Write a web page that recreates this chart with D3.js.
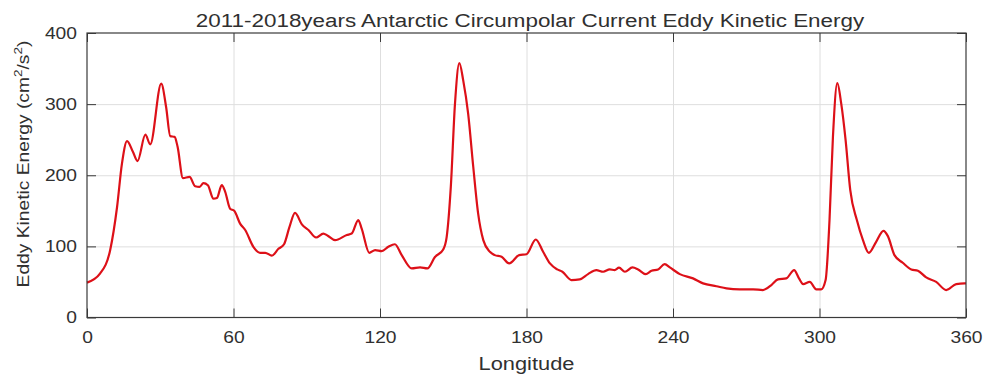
<!DOCTYPE html>
<html>
<head>
<meta charset="utf-8">
<script src="https://cdn.jsdelivr.net/npm/d3@7"></script>
<style>
  html, body { margin: 0; padding: 0; background: #fff; }
  svg { display: block; }
  text { font-family: "Liberation Sans", Arial, Helvetica, sans-serif; fill: #303030; }
</style>
</head>
<body>
<svg id="chart" width="987" height="380"></svg>
<script>
// Zonal-mean eddy kinetic energy along the ACC, 2011-2018
const longitude = [
  0, 5.4, 9.5, 12.3, 14.3, 16.4, 18.8, 20.7, 23.9, 25.9, 30.4, 32.4, 34.1, 35.9, 37.1,
  39.3, 42, 44.3, 46.1, 47.7, 49.5, 51.8, 53.2, 55.2, 56.6, 58.6, 60.3, 62.7, 64.8, 68.2,
  70.9, 73, 75.7, 78.4, 80.7, 82.9, 85.2, 88, 90.7, 93.8, 96.8, 98.6, 101.6, 106.4, 108.4,
  111.1, 112.5, 115.6, 118, 120.7, 123.4, 126.1, 128.9, 133, 136.4, 139.4, 142.5, 145.9, 147.3,
  149, 150.7, 152.5, 154.1, 156.1, 158.2, 160.2, 162.3, 165, 167, 169.8, 172.9, 177, 180,
  183.8, 186.8, 189.6, 192.6, 194.7, 198.4, 201.8, 205.2, 208.6, 211.4, 214.1, 216.1, 217.9,
  220.3, 223.4, 225.7, 228.8, 231.2, 233.9, 236.6, 238.7, 242.8, 248.2, 252.3, 257.8, 261.9,
  267.3, 272.8, 276.8, 280.3, 283, 286.4, 289.6, 291.6, 293.3, 296, 298.7, 300.7, 302.5,
  304.1, 305.5, 307.3, 308.9, 310.7, 312.6, 315.3, 317.8, 320.2, 323.2, 326.2, 328, 330.7,
  334.1, 337.6, 340.3, 343.7, 347.8, 351.9, 356, 359.4, 360
];
const eke = [
  49, 62, 95, 155, 216, 248, 233, 220, 257, 243.5, 328.7, 296, 255, 254, 240,
  196, 197.6, 184.6, 183.6, 189, 186, 167, 168, 186, 176.6, 153, 150, 132, 123, 99,
  91, 91, 87, 96.6, 103, 127, 147, 131, 123, 112.5, 118, 115, 108.8, 116, 118,
  137, 125, 91, 94.7, 93.3, 99.4, 103, 87.7, 69, 70.4, 69, 85, 95.7, 113,
  183.6, 300, 357.6, 333, 286.6, 211.6, 146, 108.8, 92.4, 87.7, 85.4, 76, 87.7, 89,
  109.7, 92.4, 76, 67.6, 64.3, 52.6, 53.6, 61, 66.7, 64.3, 67.6, 66.7, 70,
  64.3, 70.4, 67.6, 61, 65.7, 67.6, 75, 70.4, 61, 55, 48, 44, 41,
  39.6, 39.6, 38.6, 45.6, 53.6, 55, 66.7, 55, 47, 50, 39.6, 39.6, 52.6,
  137, 253.8, 329.5, 300.6, 249, 179, 137, 108.8, 91, 106.4, 121.8, 114.4, 87.7,
  77, 67.6, 65.7, 56.4, 50, 38.6, 47, 48, 48
];
const xTicks = [0, 60, 120, 180, 240, 300, 360];
const yTicks = [0, 100, 200, 300, 400];

const titleText = "2011-2018years Antarctic Circumpolar Current Eddy Kinetic Energy";
const xLabelText = "Longitude";

const svg = d3.select("#chart");
const plotLeft = 87, plotRight = 966, plotTop = 33, plotBottom = 317.5;
const stretch = 1.18;          // wide glyph proportion of the labels
const tickFont = 16.3;
const gridColor = "#dedede";
const axisColor = "#3a3a3a";

const x = d3.scaleLinear().domain([0, 360]).range([plotLeft, plotRight]);
const y = d3.scaleLinear().domain([0, 400]).range([plotBottom, plotTop]);

// grid
svg.append("g")
  .attr("class", "grid")
  .attr("transform", `translate(0,${plotBottom})`)
  .call(d3.axisBottom(x).tickValues(xTicks.slice(1, -1)).tickSize(-(plotBottom - plotTop)).tickFormat(""));
svg.append("g")
  .attr("class", "grid")
  .attr("transform", `translate(${plotLeft},0)`)
  .call(d3.axisLeft(y).tickValues(yTicks.slice(1, -1)).tickSize(-(plotRight - plotLeft)).tickFormat(""));
svg.selectAll(".grid .domain").remove();
svg.selectAll(".grid line").attr("stroke", gridColor).attr("stroke-width", 1);

// data line
const line = d3.line()
  .x((d, i) => x(longitude[i]))
  .y(d => y(d))
  .curve(d3.curveMonotoneX);
svg.append("path")
  .datum(eke)
  .attr("fill", "none")
  .attr("stroke", "#dd1018")
  .attr("stroke-width", 2.2)
  .attr("stroke-linejoin", "round")
  .attr("d", line);

// axes with inward ticks
const bottomAxis = svg.append("g")
  .attr("class", "axis")
  .attr("transform", `translate(0,${plotBottom})`)
  .call(d3.axisBottom(x).tickValues(xTicks).tickSize(-9).tickSizeOuter(0).tickPadding(14.2).tickFormat(d3.format("d")));
bottomAxis.selectAll("text")
  .attr("font-size", tickFont)
  .attr("transform", `scale(${stretch},1)`);

const leftAxis = svg.append("g")
  .attr("class", "axis")
  .attr("transform", `translate(${plotLeft},0)`)
  .call(d3.axisLeft(y).tickValues(yTicks).tickSize(-9).tickSizeOuter(0).tickFormat(d3.format("d")));
leftAxis.selectAll("text")
  .attr("font-size", tickFont)
  .attr("x", -10 / stretch)
  .attr("transform", `scale(${stretch},1)`);

svg.append("g")
  .attr("class", "axis")
  .attr("transform", `translate(0,${plotTop})`)
  .call(d3.axisTop(x).tickValues(xTicks).tickSize(-9).tickSizeOuter(0).tickFormat(""));
svg.append("g")
  .attr("class", "axis")
  .attr("transform", `translate(${plotRight},0)`)
  .call(d3.axisRight(y).tickValues(yTicks).tickSize(-9).tickSizeOuter(0).tickFormat(""));

svg.selectAll(".axis .domain").remove();
svg.selectAll(".axis line").attr("stroke", axisColor);
svg.selectAll(".axis text").attr("fill", "#303030").attr("font-family", null);

// frame
svg.append("rect")
  .attr("x", plotLeft).attr("y", plotTop)
  .attr("width", plotRight - plotLeft).attr("height", plotBottom - plotTop)
  .attr("fill", "none").attr("stroke", axisColor).attr("stroke-width", 1.2);

// title
svg.append("text")
  .attr("transform", `translate(530,26.5) scale(${stretch},1)`)
  .attr("text-anchor", "middle")
  .attr("font-size", 19)
  .text(titleText);

// x label
svg.append("text")
  .attr("transform", `translate(${(plotLeft + plotRight) / 2},370) scale(${stretch},1)`)
  .attr("text-anchor", "middle")
  .attr("font-size", 18.5)
  .text(xLabelText);

// y label with superscripts
const yl = svg.append("text")
  .attr("transform", `translate(28.5,164) rotate(-90) scale(${stretch},1)`)
  .attr("text-anchor", "middle")
  .attr("font-size", 16.3);
yl.append("tspan").text("Eddy Kinetic Energy (cm");
yl.append("tspan").attr("baseline-shift", "super").attr("font-size", 11.5).text("2");
yl.append("tspan").text("/s");
yl.append("tspan").attr("baseline-shift", "super").attr("font-size", 11.5).text("2");
yl.append("tspan").text(")");
</script>
</body>
</html>
